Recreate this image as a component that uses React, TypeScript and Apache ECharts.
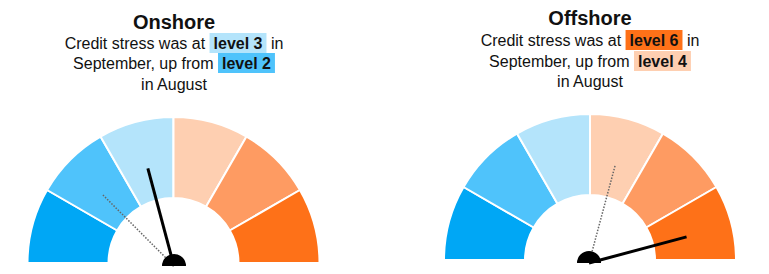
import React, { useEffect, useRef } from "react";
import * as echarts from "echarts";

const levels = ["level 1", "level 2", "level 3", "level 4", "level 5", "level 6"];
const segmentValues = [1, 1, 1, 1, 1, 1];
const levelColors = ["#00a7f5", "#4fc3fb", "#b4e4fb", "#fecfb1", "#fe9b62", "#fe7118"];

const panels = ["Onshore", "Offshore"];
const septemberLevel = [3, 6];
const augustLevel = [2, 4];

const FONT = "'Liberation Sans', Arial, Helvetica, sans-serif";

export default function App() {
  const ref = useRef<HTMLDivElement>(null);

  useEffect(() => {
    if (!ref.current) return;
    const chart = echarts.init(ref.current, undefined, { renderer: "svg" });

    const layout = [
      { cx: 173.5, cy: 263, px: 174, py: 266, tx: 174, ty: [22, 43, 63, 84] },
      { cx: 590, cy: 260, px: 589, py: 263, tx: 590, ty: [18, 40, 61, 81] },
    ];
    const outerR = 146;
    const innerR = 65;
    const needleLen = 101;

    const series: any[] = [];
    const polar: any[] = [];
    const angleAxis: any[] = [];
    const radiusAxis: any[] = [];
    const graphic: any[] = [];

    panels.forEach((name, i) => {
      const L = layout[i];
      series.push({
        type: "pie",
        name: name,
        center: [L.cx, L.cy],
        radius: [innerR, outerR],
        startAngle: 180,
        endAngle: 0,
        clockwise: true,
        silent: true,
        label: { show: false },
        labelLine: { show: false },
        itemStyle: { borderColor: "#ffffff", borderWidth: 2 },
        data: levels.map((lv, k) => ({
          name: lv,
          value: segmentValues[k],
          itemStyle: { color: levelColors[k] },
        })),
        z: 1,
      });

      polar.push({ center: [L.px, L.py], radius: outerR });
      angleAxis.push({
        polarIndex: i,
        type: "value",
        min: 0,
        max: 12,
        startAngle: 180,
        clockwise: true,
        show: false,
      });
      radiusAxis.push({ polarIndex: i, type: "value", min: 0, max: outerR, show: false });

      const prevA = augustLevel[i] - 0.5;
      const curA = septemberLevel[i] - 0.5;
      series.push({
        type: "line",
        coordinateSystem: "polar",
        polarIndex: i,
        symbol: "none",
        silent: true,
        lineStyle: { color: "#666666", width: 1.5, type: [1.5, 1.5] },
        data: [
          [0, prevA],
          [needleLen, prevA],
        ],
        z: 3,
      });
      series.push({
        type: "line",
        coordinateSystem: "polar",
        polarIndex: i,
        symbol: "none",
        silent: true,
        lineStyle: { color: "#000000", width: 3, cap: "butt" },
        data: [
          [0, curA],
          [needleLen, curA],
        ],
        z: 4,
      });
      series.push({
        type: "pie",
        center: [L.px, L.py],
        radius: [0, 12],
        startAngle: 180,
        endAngle: 0,
        silent: true,
        label: { show: false },
        labelLine: { show: false },
        data: [{ value: 1, itemStyle: { color: "#000000" } }],
        z: 5,
      });

      const cur = septemberLevel[i];
      const prev = augustLevel[i];
      const boxStyle = (color: string) => ({
        fontSize: 16,
        fontWeight: "bold",
        fontFamily: FONT,
        fill: "#111111",
        backgroundColor: color,
        padding: [2, 4, 2, 4],
        lineHeight: 15,
      });
      const base = {
        fontSize: 16,
        fontFamily: FONT,
        fill: "#111111",
        align: "center",
        verticalAlign: "middle",
      };
      graphic.push({
        type: "text",
        x: L.tx,
        y: L.ty[0],
        style: {
          text: name,
          fontSize: 20,
          fontWeight: "bold",
          fontFamily: FONT,
          fill: "#111111",
          align: "center",
          verticalAlign: "middle",
        },
      });
      graphic.push({
        type: "text",
        x: L.tx,
        y: L.ty[1],
        style: {
          ...base,
          text: `Credit stress was at {b|${levels[cur - 1]}} in`,
          rich: { b: boxStyle(levelColors[cur - 1]) },
        },
      });
      graphic.push({
        type: "text",
        x: L.tx,
        y: L.ty[2],
        style: {
          ...base,
          text: `September, up from {b|${levels[prev - 1]}}`,
          rich: { b: boxStyle(levelColors[prev - 1]) },
        },
      });
      graphic.push({
        type: "text",
        x: L.tx,
        y: L.ty[3],
        style: { ...base, text: "in August" },
      });
    });

    chart.setOption({
      animation: false,
      backgroundColor: "#ffffff",
      polar,
      angleAxis,
      radiusAxis,
      series,
      graphic,
    });

    return () => chart.dispose();
  }, []);

  return (
    <div
      ref={ref}
      style={{ position: "fixed", left: 0, top: 0, width: 769, height: 274 }}
    />
  );
}
